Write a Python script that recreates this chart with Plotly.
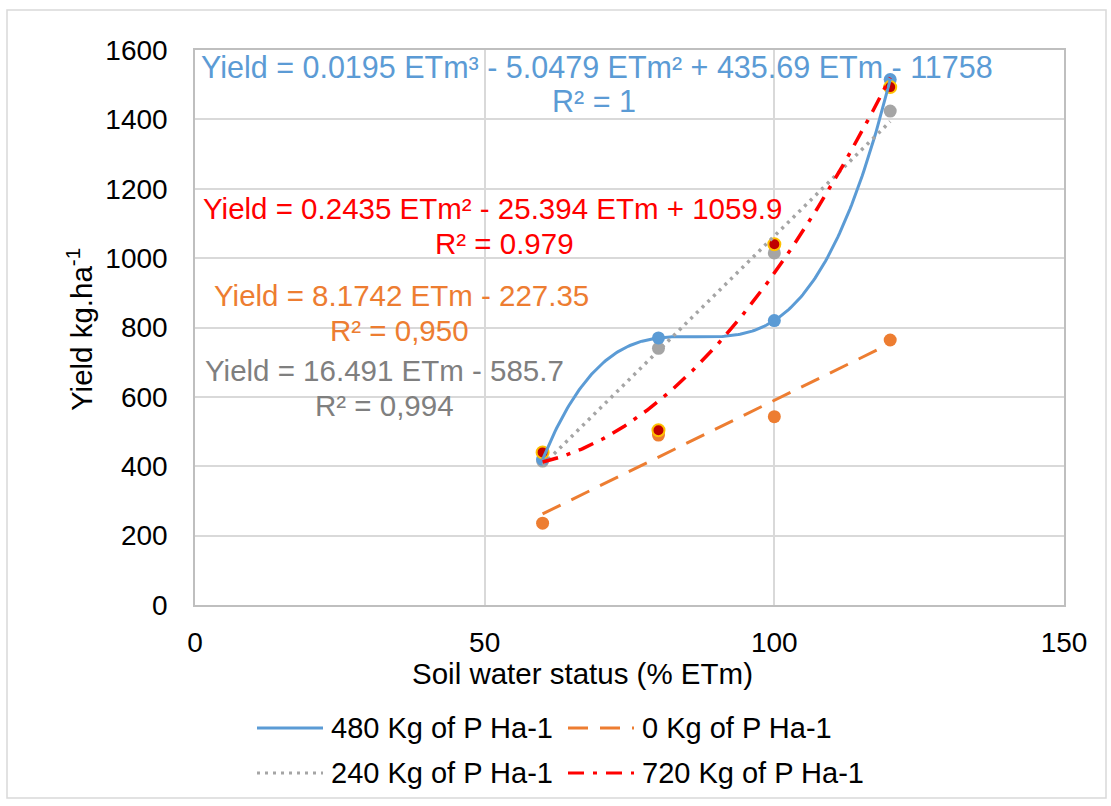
import numpy as np
import plotly.graph_objects as go

# Soil water status (% ETm) and yields (kg/ha) per phosphorus dose
etm = [60, 80, 100, 120]
yield_0 = [236, 490, 543, 764]
yield_240 = [415, 740, 1015, 1424]
yield_480 = [420, 770, 820, 1515]
yield_720 = [440, 504, 1040, 1493]

names = ["480 Kg of P Ha-1", "0 Kg of P Ha-1", "240 Kg of P Ha-1", "720 Kg of P Ha-1"]

eq_480 = ["Yield = 0.0195 ETm³ - 5.0479 ETm² + 435.69 ETm - 11758", "R² = 1"]
eq_720 = ["Yield = 0.2435 ETm² - 25.394 ETm + 1059.9", "R² = 0.979"]
eq_0 = ["Yield = 8.1742 ETm - 227.35", "R² = 0,950"]
eq_240 = ["Yield = 16.491 ETm - 585.7", "R² = 0,994"]

x_ticks = [0, 50, 100, 150]
y_ticks = [0, 200, 400, 600, 800, 1000, 1200, 1400, 1600]

BLUE = "#5B9BD5"
ORANGE = "#ED7D31"
GRAY = "#A5A5A5"
RED = "#FF0000"
DARKRED = "#C00000"
GOLD = "#FFC000"
FONT = "Liberation Sans, Arial, Helvetica, sans-serif"

W, H = 1111, 806
L, R, T, B = 195, 1064, 50, 605  # plot area in pixels


def px(x):
    return (x - L) / (R - L)


def py(y):
    return (B - y) / (B - T)


def trend(xs, ys, deg):
    coef = np.polyfit(xs, ys, deg)
    xx = np.linspace(min(xs), max(xs), 200)
    return xx, np.polyval(coef, xx)


fig = go.Figure()

# data markers
fig.add_trace(go.Scatter(x=etm, y=yield_0, mode="markers", name=names[1], showlegend=False,
                         marker=dict(size=13, color=ORANGE)))
fig.add_trace(go.Scatter(x=etm, y=yield_240, mode="markers", name=names[2], showlegend=False,
                         marker=dict(size=13, color=GRAY)))
fig.add_trace(go.Scatter(x=etm, y=yield_480, mode="markers", name=names[0], showlegend=False,
                         marker=dict(size=13, color=BLUE)))
fig.add_trace(go.Scatter(x=etm, y=yield_720, mode="markers", name=names[3], showlegend=False,
                         marker=dict(size=12, color=DARKRED, line=dict(color=GOLD, width=2))))

# trend lines
xx, yy = trend(etm, yield_480, 3)
fig.add_trace(go.Scatter(x=xx, y=yy, mode="lines", showlegend=False,
                         line=dict(color=BLUE, width=3)))
xx, yy = trend(etm, yield_0, 1)
fig.add_trace(go.Scatter(x=xx, y=yy, mode="lines", showlegend=False,
                         line=dict(color=ORANGE, width=3, dash="20px,12px")))
xx, yy = trend(etm, yield_240, 1)
fig.add_trace(go.Scatter(x=xx, y=yy, mode="lines", showlegend=False,
                         line=dict(color=GRAY, width=3.5, dash="3px,5px")))
xx, yy = trend(etm, yield_720, 2)
fig.add_trace(go.Scatter(x=xx, y=yy, mode="lines", showlegend=False,
                         line=dict(color=RED, width=3.5, dash="16px,9px,4px,9px")))

annotations = []


def text(label, x, y, color, size=29.5, angle=0):
    annotations.append(dict(text=label, x=px(x), y=py(y), xref="paper", yref="paper",
                            xanchor="center", yanchor="middle", showarrow=False,
                            textangle=angle, font=dict(family=FONT, size=size, color=color)))


# trend line equations
text(eq_480[0], 597, 67, BLUE, size=30.5)
text(eq_480[1], 594, 101, BLUE, size=30.5)
text(eq_720[0], 492, 208, RED)
text(eq_720[1], 504, 243, RED)
text(eq_0[0], 401, 295, ORANGE)
text(eq_0[1], 399, 330, ORANGE)
text(eq_240[0], 384, 370, "#7F7F7F")
text(eq_240[1], 384, 405, "#7F7F7F")

# axis titles
text("Soil water status (% ETm)", 582, 673, "#000000")
text("Yield kg.ha<sup>-1</sup>", 79, 330, "#000000", angle=-90)

# legend (two rows)
shapes = []
legend_items = [
    (names[0], BLUE, "solid", 257, 728),
    (names[1], ORANGE, "20px,12px", 568, 728),
    (names[2], GRAY, "3px,5px", 257, 773),
    (names[3], RED, "16px,9px,4px,9px", 568, 773),
]
for label, color, dash, x0, y0 in legend_items:
    shapes.append(dict(type="line", xref="paper", yref="paper",
                       x0=px(x0), x1=px(x0 + 66), y0=py(y0), y1=py(y0),
                       line=dict(color=color, width=3, dash=dash)))
    annotations.append(dict(text=label, x=px(x0 + 72), y=py(y0), xref="paper", yref="paper",
                            xanchor="left", yanchor="middle", showarrow=False,
                            font=dict(family=FONT, size=29, color="#000000")))

# chart area border
shapes.append(dict(type="rect", xref="paper", yref="paper",
                   x0=px(7), x1=px(1106), y0=py(798), y1=py(10),
                   line=dict(color="#D9D9D9", width=1.5), layer="below"))

fig.update_layout(
    width=W, height=H,
    margin=dict(l=L, r=W - R, t=T, b=H - B),
    paper_bgcolor="white", plot_bgcolor="white",
    font=dict(family=FONT, size=28, color="#000000"),
    annotations=annotations, shapes=shapes,
    showlegend=False,
)
fig.update_xaxes(range=[0, 150], tickvals=x_ticks, showgrid=True, gridcolor="#D9D9D9", gridwidth=1.5,
                 showline=True, linecolor="#BFBFBF", linewidth=1.5, mirror=True, zeroline=False,
                 ticks="", ticklabelstandoff=12, tickfont=dict(size=28, family=FONT))
fig.update_yaxes(range=[0, 1600], tickvals=y_ticks, showgrid=True, gridcolor="#D9D9D9", gridwidth=1.5,
                 showline=True, linecolor="#BFBFBF", linewidth=1.5, mirror=True, zeroline=False,
                 ticks="", ticklabelstandoff=20, tickfont=dict(size=28, family=FONT))

fig.write_html("out.html")
